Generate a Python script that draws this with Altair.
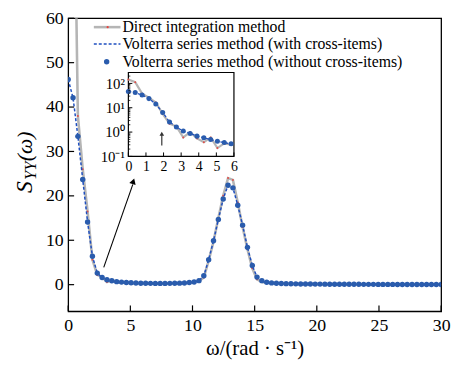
import altair as alt
import pandas as pd

# ---------------- data ----------------
omega = [0.00, 0.39, 0.78, 1.17, 1.56, 1.95, 2.34, 2.73, 3.12, 3.51,
         3.90, 4.29, 4.68, 5.06, 5.45, 5.84, 6.23, 6.62, 7.01, 7.40,
         7.79, 8.18, 8.57, 8.96, 9.35, 9.74, 10.13, 10.52, 10.91, 11.30,
         11.69, 12.08, 12.47, 12.86, 13.25, 13.64, 14.03, 14.42, 14.81, 15.19,
         15.58, 15.97, 16.36, 16.75, 17.14, 17.53, 17.92, 18.31, 18.70, 19.09,
         19.48, 19.87, 20.26, 20.65, 21.04, 21.43, 21.82, 22.21, 22.60, 22.99,
         23.38, 23.77, 24.16, 24.55, 24.94, 25.32, 25.71, 26.10, 26.49, 26.88,
         27.27, 27.66, 28.05, 28.44, 28.83, 29.22, 29.61, 30.00]

direct = [145, 112, 38, 26, 16.5, 5.6, 2.2, 1.7, 0.6, 1.0,
          0.55, 0.38, 0.6, 0.22, 0.34, 0.3, 0.3, 0.25, 0.3, 0.26,
          0.28, 0.27, 0.31, 0.32, 0.38, 0.45, 0.55, 0.8, 1.6, 5.4,
          9.7, 15.0, 20.0, 24.0, 23.6, 18.5, 13.0, 8.0, 3.7, 1.2,
          0.6, 0.45, 0.4, 0.32, 0.27, 0.23, 0.2, 0.18, 0.16, 0.15,
          0.14, 0.13, 0.12, 0.11, 0.1, 0.1, 0.09, 0.09, 0.08, 0.08,
          0.08, 0.07, 0.07, 0.07, 0.06, 0.06, 0.06, 0.06, 0.05, 0.05,
          0.05, 0.05, 0.05, 0.04, 0.04, 0.04, 0.04, 0.04]

volterra_cross = [46.2, 42.1, 33.4, 23.7, 14.1, 6.4, 2.6, 1.6, 1.1, 0.88,
                  0.68, 0.58, 0.49, 0.42, 0.37, 0.33, 0.31, 0.29, 0.28, 0.28,
                  0.28, 0.29, 0.31, 0.34, 0.39, 0.47, 0.6, 0.9, 2.0, 5.6,
                  9.9, 14.7, 19.3, 22.4, 21.8, 17.9, 13.4, 8.4, 4.3, 1.7,
                  0.9, 0.55, 0.4, 0.32, 0.27, 0.23, 0.2, 0.18, 0.16, 0.15,
                  0.14, 0.13, 0.12, 0.11, 0.1, 0.1, 0.09, 0.09, 0.08, 0.08,
                  0.08, 0.07, 0.07, 0.07, 0.06, 0.06, 0.06, 0.06, 0.05, 0.05,
                  0.05, 0.05, 0.05, 0.04, 0.04, 0.04, 0.04, 0.04]

volterra_nocross = [46.2, 42.1, 33.4, 23.7, 14.1, 6.4, 2.6, 1.6, 1.1, 0.88,
                    0.68, 0.58, 0.49, 0.42, 0.37, 0.33, 0.31, 0.29, 0.28, 0.28,
                    0.28, 0.29, 0.31, 0.34, 0.39, 0.47, 0.6, 0.9, 2.0, 5.6,
                    9.9, 14.7, 19.3, 22.4, 21.8, 17.9, 13.4, 8.4, 4.3, 1.7,
                    0.9, 0.55, 0.4, 0.32, 0.27, 0.23, 0.2, 0.18, 0.16, 0.15,
                    0.14, 0.13, 0.12, 0.11, 0.1, 0.1, 0.09, 0.09, 0.08, 0.08,
                    0.08, 0.07, 0.07, 0.07, 0.06, 0.06, 0.06, 0.06, 0.05, 0.05,
                    0.05, 0.05, 0.05, 0.04, 0.04, 0.04, 0.04, 0.04]

x_ticks = [0, 5, 10, 15, 20, 25, 30]
y_ticks = [0, 10, 20, 30, 40, 50, 60]
inset_x_ticks = [0, 1, 2, 3, 4, 5, 6]
inset_y_ticks = [0.1, 1, 10, 100]
inset_y_minor = [0.2, 0.3, 0.4, 0.5, 0.6, 0.7, 0.8, 0.9,
                 2, 3, 4, 5, 6, 7, 8, 9,
                 20, 30, 40, 50, 60, 70, 80, 90, 200]

legend_labels = ["Direct integration method",
                 "Volterra series method (with cross-items)",
                 "Volterra series method (without cross-items)"]

# annotation arrows (main: from curve to inset; inset: marker arrow)
arrow_main = {"x": [2.86], "y": [3.9], "x2": [5.2], "y2": [22.6]}
arrow_main_head = {"x": [5.24], "y": [23.3]}
arrow_inset = {"x": [1.9], "y": [0.28], "y2": [0.85]}

# ---------------- styling ----------------
FONT = "Liberation Serif"
GRAY = "#b5b5b5"
RED = "#e8423c"
BLUE_LINE = "#1e4fc0"
BLUE_DOT = "#2a5cad"
W, H = 378, 297
TOP = 8          # top padding
IN_TOP, IN_BOT = 55, 140   # inset box (plot-area pixels)
IN_L, IN_R = 61, 168

df = pd.DataFrame({"omega": omega, "direct": direct,
                   "cross": volterra_cross, "nocross": volterra_nocross})
df_in = df[df["omega"] <= 6.01]
one = pd.DataFrame({"a": [0]})

xs = alt.Scale(domain=[0, 30], nice=False)
ys = alt.Scale(domain=[-6, 60], nice=False)
xaxis = alt.Axis(values=x_ticks, title="ω/(rad · s⁻¹)", labelFont=FONT,
                 labelFontSize=18, labelColor="black", labelPadding=5,
                 ticks=False, domain=False, grid=False, labelFlush=False,
                 titleFont=FONT, titleFontSize=21, titleFontWeight="normal",
                 titleColor="black", titlePadding=4)
yaxis = alt.Axis(values=y_ticks, title="", labelFont=FONT, labelFontSize=18,
                 labelColor="black", labelPadding=5, ticks=False, domain=False,
                 grid=False, labelFlush=False)


def MX(f):
    return alt.X(f, type="quantitative", scale=xs, axis=xaxis)


def MY(f):
    return alt.Y(f, type="quantitative", scale=ys, axis=yaxis)


base = alt.Chart(df)
m_gray = base.mark_line(color=GRAY, strokeWidth=2.6, clip=True).encode(
    x=MX("omega"), y=MY("direct"))
m_red = base.mark_point(color=RED, filled=True, size=4, opacity=0.9, clip=True).encode(
    x=MX("omega"), y=MY("direct"))
m_dash = base.mark_line(color=BLUE_LINE, strokeWidth=1.5, strokeDash=[3, 2], clip=True).encode(
    x=MX("omega"), y=MY("cross"))
m_dots = base.mark_point(color=BLUE_DOT, filled=True, size=30, opacity=1, clip=True).encode(
    x=MX("omega"), y=MY("nocross"))

arr = alt.Chart(pd.DataFrame(arrow_main)).mark_rule(color="black", strokeWidth=1.1).encode(
    x=MX("x"), y=MY("y"), x2="x2", y2="y2")
arr_head = alt.Chart(pd.DataFrame(arrow_main_head)).mark_point(
    shape="triangle-up", filled=True, size=45, angle=18, color="black", opacity=1).encode(
    x=MX("x"), y=MY("y"))

xt = alt.Chart(pd.DataFrame({"t": x_ticks})).mark_rule(color="black", strokeWidth=1.2).encode(
    x=MX("t"), y=alt.value(H), y2=alt.value(H - 6))
yt = alt.Chart(pd.DataFrame({"t": y_ticks})).mark_rule(color="black", strokeWidth=1.2).encode(
    y=MY("t"), x=alt.value(0), x2=alt.value(6))

inset_box = alt.Chart(one).mark_rect(fill="white", stroke="black", strokeWidth=1.2).encode(
    x=alt.value(IN_L), x2=alt.value(IN_R), y=alt.value(IN_TOP), y2=alt.value(IN_BOT))

# legend
LG_Y = [9, 26, 44]
lg1 = alt.Chart(one).mark_rule(color=GRAY, strokeWidth=2.6).encode(
    x=alt.value(26), x2=alt.value(53), y=alt.value(LG_Y[0]))
lg1r = alt.Chart(one).mark_point(color=RED, filled=True, size=5, opacity=1).encode(
    x=alt.value(40), y=alt.value(LG_Y[0]))
lg2 = alt.Chart(one).mark_rule(color=BLUE_LINE, strokeWidth=1.5, strokeDash=[3, 2]).encode(
    x=alt.value(26), x2=alt.value(53), y=alt.value(LG_Y[1]))
lg3 = alt.Chart(one).mark_point(color=BLUE_DOT, filled=True, size=30, opacity=1).encode(
    x=alt.value(39), y=alt.value(LG_Y[2]))
lg_texts = [
    alt.Chart(one).mark_text(text=lab, font=FONT, fontSize=16, align="left",
                             baseline="middle", color="black").encode(
        x=alt.value(55), y=alt.value(yy))
    for lab, yy in zip(legend_labels, LG_Y)
]

# y-axis title S_YY(ω)
yt_S = alt.Chart(one).mark_text(text="S", font=FONT, fontStyle="italic", fontSize=24,
                                angle=270, align="left", baseline="middle", color="black").encode(
    x=alt.value(-44), y=alt.value(177))
yt_YY = alt.Chart(one).mark_text(text="YY", font=FONT, fontStyle="italic", fontSize=17,
                                 angle=270, align="left", baseline="middle", color="black").encode(
    x=alt.value(-38), y=alt.value(164))
yt_w = alt.Chart(one).mark_text(text="(ω)", font=FONT, fontStyle="italic", fontSize=22,
                                angle=270, align="left", baseline="middle", color="black").encode(
    x=alt.value(-44), y=alt.value(145))

main = alt.layer(m_gray, m_red, m_dash, m_dots, arr, arr_head, xt, yt, inset_box,
                 lg1, lg1r, lg2, lg3, *lg_texts, yt_S, yt_YY, yt_w)

# ---------------- inset ----------------
ixs = alt.Scale(domain=[0, 6], range=[IN_L, IN_R], nice=False)
iys = alt.Scale(type="log", domain=[0.1, 280], range=[IN_BOT, IN_TOP], nice=False)
ixaxis = alt.Axis(values=inset_x_ticks, orient="bottom", offset=-(H - IN_BOT), title="",
                  labelFont=FONT, labelFontSize=14, labelColor="black", labelPadding=3,
                  ticks=False, domain=False, grid=False, labelFlush=False)
iyaxis = alt.Axis(values=inset_y_ticks, orient="left", offset=-IN_L, title="",
                  labelFont=FONT, labelFontSize=15, labelColor="black", labelPadding=4,
                  ticks=False, domain=False, grid=False, labelFlush=False,
                  labelExpr="datum.value < 0.5 ? '10⁻¹' : datum.value < 5 ? '10⁰' : datum.value < 50 ? '10¹' : '10²'")


def IX(f):
    return alt.X(f, type="quantitative", scale=ixs, axis=ixaxis)


def IY(f):
    return alt.Y(f, type="quantitative", scale=iys, axis=iyaxis)


ib = alt.Chart(df_in)
i_gray = ib.mark_line(color=GRAY, strokeWidth=2.2).encode(x=IX("omega"), y=IY("direct"))
i_red = ib.mark_point(color=RED, filled=True, size=4, opacity=0.9).encode(x=IX("omega"), y=IY("direct"))
i_dash = ib.mark_line(color=BLUE_LINE, strokeWidth=1.3, strokeDash=[3, 2]).encode(
    x=IX("omega"), y=IY("cross"))
i_dots = ib.mark_point(color=BLUE_DOT, filled=True, size=26, opacity=1).encode(
    x=IX("omega"), y=IY("nocross"))
i_arr = alt.Chart(pd.DataFrame(arrow_inset)).mark_rule(color="#333333", strokeWidth=1.2).encode(
    x=IX("x"), y=IY("y"), y2="y2")
i_head = alt.Chart(pd.DataFrame(arrow_inset)).mark_point(
    shape="triangle-up", filled=True, size=22, color="#333333", opacity=1).encode(
    x=IX("x"), y=IY("y2"))
i_xt = alt.Chart(pd.DataFrame({"t": inset_x_ticks})).mark_rule(color="black", strokeWidth=1).encode(
    x=IX("t"), y=alt.value(IN_BOT), y2=alt.value(IN_BOT - 4))
i_yt = alt.Chart(pd.DataFrame({"t": inset_y_ticks})).mark_rule(color="black", strokeWidth=1).encode(
    y=IY("t"), x=alt.value(IN_L), x2=alt.value(IN_L + 4))
i_ym = alt.Chart(pd.DataFrame({"t": inset_y_minor})).mark_rule(color="black", strokeWidth=0.8).encode(
    y=IY("t"), x=alt.value(IN_L), x2=alt.value(IN_L + 2))

inset = alt.layer(i_gray, i_red, i_dash, i_dots, i_arr, i_head, i_xt, i_yt, i_ym)

chart = alt.layer(main, inset).resolve_scale(x="independent", y="independent").properties(
    width=W, height=H,
    autosize=alt.AutoSizeParams(type="none"),
    padding={"left": 61, "top": TOP, "right": 10, "bottom": 50},
).configure_view(stroke="black", strokeWidth=1.3)

chart.save("out.html", embed_options={"renderer": "svg", "actions": False})
